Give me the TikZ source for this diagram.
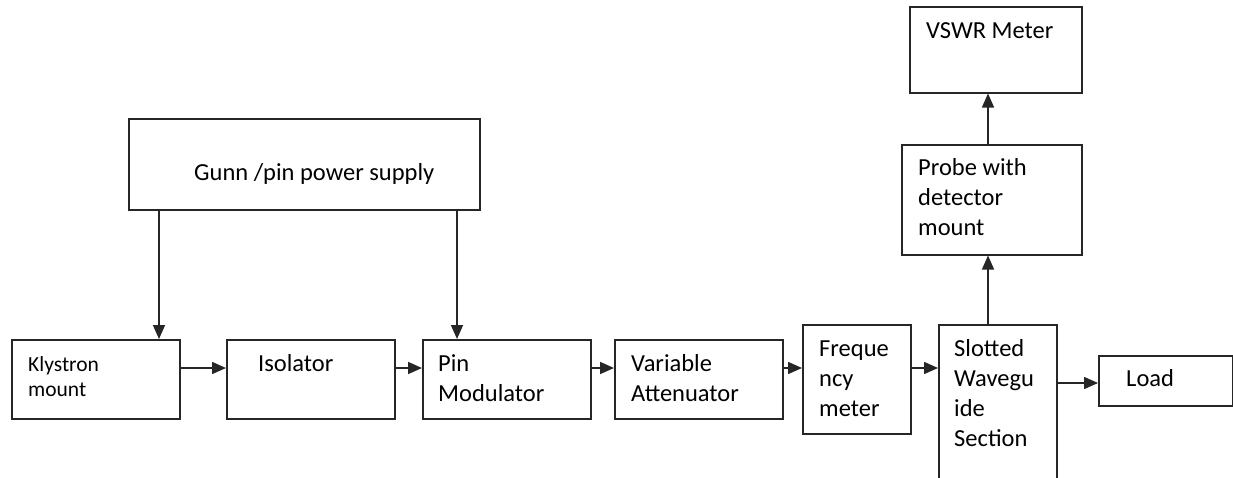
\documentclass[tikz,border=0pt]{standalone}
\usepackage{fontspec}
\setmainfont{Carlito}
\usetikzlibrary{arrows.meta}
\tikzset{
  box/.style={draw=black!85, line width=1.5pt, inner sep=0pt, anchor=north west},
  lbl/.style={inner sep=0pt, anchor=base west, align=left, font=\fontsize{24.5}{30}\selectfont},
  lblsmall/.style={lbl, font=\fontsize{21.5}{25}\selectfont},
  arr/.style={draw=black!85, line width=1.5pt, -{Triangle[length=14pt,width=12pt]}}
}
\begin{document}
\begin{tikzpicture}[x=1pt, y=-1pt]
\useasboundingbox (0,0) rectangle (1233,477);

% blocks (top-left corner, width, height)
\node[box, minimum width=168pt, minimum height=79pt]  (kly)   at (11,339)   {};
\node[box, minimum width=168pt, minimum height=79pt]  (iso)   at (226,339)  {};
\node[box, minimum width=168pt, minimum height=79pt]  (pin)   at (422,339)  {};
\node[box, minimum width=168pt, minimum height=79pt]  (att)   at (614,339)  {};
\node[box, minimum width=108pt, minimum height=109pt] (frq)   at (802,324)  {};
\node[box, minimum width=118pt, minimum height=175pt] (slt)   at (938,324)  {};
\node[box, minimum width=134pt, minimum height=50pt]  (load)  at (1098,355) {};
\node[box, minimum width=180pt, minimum height=110pt] (probe) at (901,144)  {};
\node[box, minimum width=172pt, minimum height=86pt]  (vswr)  at (909,6)    {};
\node[box, minimum width=351pt, minimum height=91pt]  (gunn)  at (128,118)  {};

% block texts (placed at the baseline of their last line)
\node[lblsmall] (tkly)   at (28,396)   {Klystron\\mount};
\node[lbl]      (tiso)   at (258,371)  {Isolator};
\node[lbl]      (tpin)   at (438,401)  {Pin\\Modulator};
\node[lbl]      (tatt)   at (631,401)  {Variable\\Attenuator};
\node[lbl]      (tfrq)   at (819,416)  {Freque\\ncy\\meter};
\node[lbl]      (tslt)   at (954,446)  {Slotted\\Wavegu\\ide\\Section};
\node[lbl]      (tload)  at (1126,386) {Load};
\node[lbl]      (tprobe) at (918,235)  {Probe with\\detector\\mount};
\node[lbl]      (tvswr)  at (926,38)   {VSWR Meter};
\node[lbl]      (tgunn)  at (194,180)  {Gunn /pin power supply};

% signal chain
\draw[arr] (kly.east |- 0,368) -- (iso.west |- 0,368);
\draw[arr] (iso.east |- 0,368) -- (pin.west |- 0,368);
\draw[arr] (pin.east |- 0,368) -- (att.west |- 0,368);
\draw[arr] (att.east |- 0,368) -- (frq.west |- 0,368);
\draw[arr] (frq.east |- 0,368) -- (slt.west |- 0,368);
\draw[arr] (slt.east |- 0,383) -- (load.west |- 0,383);

% detection path
\draw[arr] (slt.north -| 988,0) -- (probe.south -| 988,0);
\draw[arr] (probe.north -| 988,0) -- (vswr.south -| 988,0);

% power supply feeds
\draw[arr] (gunn.south -| 159,0) -- (kly.north -| 159,0);
\draw[arr] (gunn.south -| 457,0) -- (pin.north -| 457,0);
\end{tikzpicture}
\end{document}
